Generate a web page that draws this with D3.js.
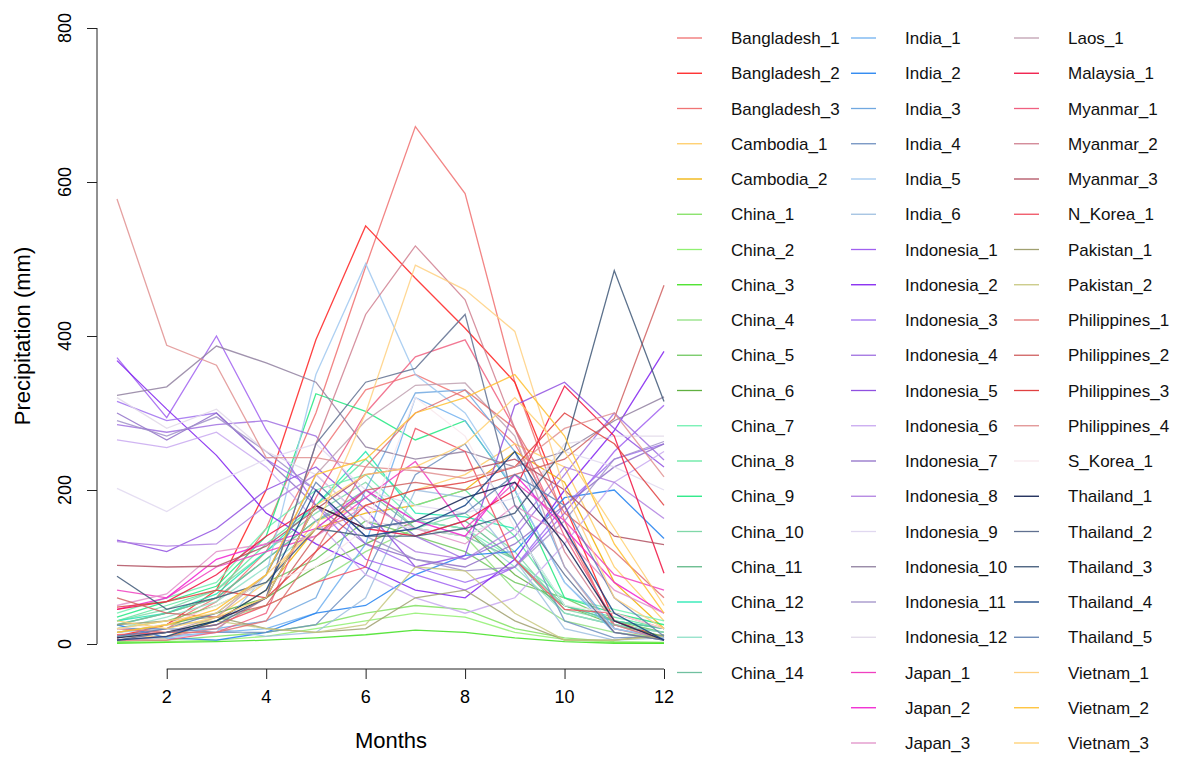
<!DOCTYPE html>
<html>
<head>
<meta charset="utf-8">
<script src="https://cdn.jsdelivr.net/npm/d3@7"></script>
<style>
  body { margin: 0; background: #fff; }
  text { font-family: "Liberation Sans", Arial, sans-serif; }
</style>
</head>
<body>
<svg id="chart" width="1181" height="758"></svg>
<script>
// months on the x axis
const months = [1, 2, 3, 4, 5, 6, 7, 8, 9, 10, 11, 12];
const yTicks = [0, 200, 400, 600, 800];
const xTicks = [2, 4, 6, 8, 10, 12];

// monthly precipitation per station
const bangladesh = [
  [8, 25, 60, 150, 300, 490, 672, 585, 340, 160, 20, 6],
  [10, 25, 70, 200, 395, 543, 475, 410, 340, 180, 30, 8],
  [8, 20, 55, 120, 240, 330, 350, 320, 260, 150, 25, 5]
];
const cambodia = [
  [10, 10, 35, 80, 160, 180, 200, 220, 260, 230, 100, 30],
  [5, 8, 30, 70, 150, 170, 180, 200, 250, 210, 80, 20]
];
const china = [
  [3, 5, 10, 15, 25, 40, 50, 45, 20, 8, 3, 2],
  [2, 3, 5, 10, 20, 30, 40, 35, 15, 6, 2, 1],
  [1, 2, 3, 5, 8, 12, 18, 15, 8, 3, 1, 1],
  [10, 15, 30, 50, 80, 120, 150, 140, 70, 30, 15, 8],
  [20, 30, 50, 80, 110, 160, 140, 120, 80, 60, 30, 15],
  [15, 25, 40, 60, 100, 130, 160, 150, 90, 50, 25, 10],
  [40, 60, 80, 150, 200, 220, 160, 150, 110, 60, 45, 30],
  [30, 50, 70, 130, 180, 240, 180, 200, 140, 50, 35, 20],
  [35, 55, 75, 140, 325, 302, 265, 290, 200, 60, 40, 25],
  [30, 45, 70, 120, 170, 210, 150, 170, 120, 45, 30, 20],
  [25, 40, 60, 110, 160, 190, 140, 160, 110, 40, 25, 15],
  [30, 40, 65, 120, 180, 250, 170, 165, 150, 50, 30, 20],
  [20, 35, 55, 100, 150, 200, 160, 150, 100, 40, 25, 15],
  [25, 40, 60, 110, 160, 200, 150, 140, 110, 50, 30, 20]
];
const india = [
  [5, 10, 15, 20, 40, 130, 320, 290, 200, 80, 15, 5],
  [25, 8, 5, 15, 40, 50, 90, 115, 120, 190, 200, 137],
  [10, 15, 20, 30, 60, 200, 326, 330, 250, 100, 20, 8],
  [20, 20, 15, 15, 25, 90, 220, 260, 160, 30, 8, 10],
  [5, 8, 15, 90, 350, 494, 350, 300, 200, 80, 20, 8],
  [15, 20, 20, 10, 15, 60, 200, 190, 110, 20, 5, 8]
];
const indonesia = [
  [372, 294, 400, 278, 180, 110, 90, 70, 100, 170, 250, 310],
  [368, 305, 245, 170, 130, 100, 70, 60, 110, 200, 277, 380],
  [315, 290, 300, 240, 200, 130, 100, 80, 100, 180, 240, 260],
  [285, 275, 285, 290, 270, 190, 140, 110, 140, 220, 300, 239],
  [135, 120, 150, 200, 230, 175, 100, 115, 310, 340, 280, 230],
  [265, 255, 275, 230, 160, 90, 60, 40, 60, 130, 210, 250],
  [300, 265, 300, 240, 180, 130, 110, 100, 130, 180, 230, 260],
  [133, 127, 130, 180, 220, 160, 120, 110, 150, 230, 210, 163],
  [202, 172, 210, 240, 260, 200, 180, 170, 190, 250, 230, 200],
  [323, 334, 387, 365, 340, 256, 240, 250, 230, 250, 290, 321],
  [290, 270, 295, 250, 200, 140, 110, 95, 100, 160, 240, 263],
  [320, 280, 305, 250, 220, 160, 150, 140, 170, 260, 270, 270]
];
const japan = [
  [70, 60, 100, 120, 140, 190, 237, 150, 210, 160, 90, 70],
  [45, 60, 110, 130, 150, 200, 160, 140, 220, 150, 80, 40],
  [50, 65, 120, 130, 140, 180, 150, 130, 180, 140, 70, 40]
];
const laos = [
  [5, 15, 35, 90, 220, 290, 336, 339, 270, 100, 15, 5]
];
const malaysia = [
  [45, 55, 90, 140, 180, 150, 140, 160, 200, 335, 270, 92]
];
const myanmar = [
  [5, 5, 15, 40, 190, 300, 373, 395, 280, 140, 30, 5],
  [5, 10, 20, 60, 260, 428, 517, 447, 280, 120, 25, 5],
  [102, 100, 101, 127, 175, 220, 230, 225, 240, 200, 140, 129]
];
const nKorea = [
  [12, 15, 25, 50, 80, 100, 280, 250, 110, 45, 40, 20]
];
const pakistan = [
  [25, 30, 35, 20, 15, 20, 60, 70, 30, 5, 5, 12],
  [15, 25, 30, 20, 15, 25, 100, 95, 40, 5, 5, 10]
];
const philippines = [
  [20, 15, 15, 30, 120, 230, 300, 330, 280, 170, 120, 60],
  [60, 40, 35, 50, 140, 200, 210, 200, 220, 240, 293, 466],
  [48, 55, 70, 60, 120, 180, 200, 210, 230, 300, 260, 180],
  [578, 388, 362, 242, 242, 230, 225, 215, 230, 280, 300, 217]
];
const sKorea = [
  [20, 25, 50, 80, 100, 150, 320, 270, 150, 50, 40, 20]
];
const thailand = [
  [8, 15, 30, 60, 180, 150, 160, 190, 210, 130, 30, 5],
  [5, 15, 25, 60, 260, 340, 358, 428, 180, 90, 15, 5],
  [88, 45, 60, 80, 150, 140, 140, 150, 170, 253, 485, 315],
  [5, 10, 30, 70, 200, 140, 150, 180, 250, 150, 40, 5],
  [10, 20, 40, 90, 210, 150, 160, 170, 220, 180, 60, 10]
];
const vietnam = [
  [20, 30, 40, 90, 150, 300, 492, 460, 406, 200, 60, 20],
  [15, 25, 45, 90, 220, 240, 300, 320, 350, 270, 130, 40],
  [30, 20, 35, 60, 180, 220, 230, 260, 320, 250, 150, 50]
];

const groups = [
  ["Bangladesh", bangladesh, ["#f07070", "#ff2020", "#f07474"]],
  ["Cambodia", cambodia, ["#ffcc66", "#f0b000"]],
  ["China", china, ["#80e060", "#90f070", "#40e020", "#90e080", "#70c860", "#60b040", "#70f0b0",
                    "#60e8a0", "#20e880", "#80d8a8", "#60b888", "#20e8b0", "#90e0c8", "#70c0a0"]],
  ["India", india, ["#70b0f0", "#2080f0", "#70a8e0", "#7090c0", "#a0c8f0", "#a0c0e0"]],
  ["Indonesia", indonesia, ["#a060f0", "#8020f0", "#a070f0", "#a070e0", "#9050e0", "#c8a8f0",
                            "#9070c8", "#b080e0", "#e0d8f0", "#9080a0", "#a090c8", "#e0d8e8"]],
  ["Japan", japan, ["#f040c0", "#f020d0", "#e090c8"]],
  ["Laos", laos, ["#c0a0b0"]],
  ["Malaysia", malaysia, ["#f01040"]],
  ["Myanmar", myanmar, ["#f06080", "#d08090", "#b05060"]],
  ["N_Korea", nKorea, ["#f05060"]],
  ["Pakistan", pakistan, ["#a0a070", "#c8c880"]],
  ["Philippines", philippines, ["#e07070", "#d06060", "#e04040", "#e09090"]],
  ["S_Korea", sKorea, ["#f8e8ec"]],
  ["Thailand", thailand, ["#102050", "#607090", "#405878", "#104080", "#6080b0"]],
  ["Vietnam", vietnam, ["#ffd080", "#ffc030", "#ffd070"]]
];

const series = groups.flatMap(([name, rows, cols]) =>
  rows.map((v, i) => ({ name: name + "_" + (i + 1), values: v, color: cols[i] })));

const svg = d3.select("#chart");

const x = d3.scaleLinear().domain([1, 12]).range([117, 664]);
const y = d3.scaleLinear().domain([0, 800]).range([644, 28]);

// lines
const line = d3.line().x((d, i) => x(months[i])).y(d => y(d));
svg.append("g").selectAll("path")
  .data(series)
  .join("path")
  .attr("d", d => line(d.values))
  .attr("fill", "none")
  .attr("stroke", d => d.color)
  .attr("stroke-width", 1.3)
  .attr("stroke-opacity", 0.85);

// y axis (R style, vertical labels)
const yAxis = svg.append("g").attr("transform", "translate(97,0)")
  .call(d3.axisLeft(y).tickValues(yTicks).tickSize(10).tickSizeOuter(0).tickFormat(""));
yAxis.select(".domain").attr("d", `M0,${y(0)}V${y(800)}`);
yAxis.selectAll("line, path").attr("stroke", "#222");
svg.append("g").selectAll("text")
  .data(yTicks)
  .join("text")
  .attr("transform", d => `translate(71,${y(d)}) rotate(-90)`)
  .attr("text-anchor", "middle")
  .style("font-size", "18px")
  .text(d => d);

// x axis
const xAxis = svg.append("g").attr("transform", "translate(0,669)")
  .call(d3.axisBottom(x).tickValues(xTicks).tickSize(10).tickSizeOuter(0).tickFormat(""));
xAxis.select(".domain").attr("d", `M${x(2)},0H${x(12)}`);
xAxis.selectAll("line, path").attr("stroke", "#222");
svg.append("g").selectAll("text")
  .data(xTicks)
  .join("text")
  .attr("x", d => x(d))
  .attr("y", 703)
  .attr("text-anchor", "middle")
  .style("font-size", "18px")
  .text(d => d);

// axis titles
svg.append("text")
  .attr("x", 391).attr("y", 748)
  .attr("text-anchor", "middle")
  .style("font-size", "22px")
  .text("Months");
svg.append("text")
  .attr("transform", "translate(30,336) rotate(-90)")
  .attr("text-anchor", "middle")
  .style("font-size", "22px")
  .text("Precipitation (mm)");

// legend: 3 columns (19, 21, 21 rows)
const colStarts = [0, 19, 40];
const colX = [677, 851, 1014];
const rowY = i => 38 + i * 35.25;
const leg = svg.append("g").selectAll("g")
  .data(series)
  .join("g")
  .attr("transform", (d, i) => {
    const c = i >= colStarts[2] ? 2 : i >= colStarts[1] ? 1 : 0;
    return `translate(${colX[c]},${rowY(i - colStarts[c])})`;
  });
leg.append("line")
  .attr("x1", 0).attr("x2", 25)
  .attr("stroke", d => d.color)
  .attr("stroke-width", 1.3);
leg.append("text")
  .attr("x", 54).attr("y", 6)
  .style("font-size", "17px")
  .attr("fill", "#111")
  .text(d => d.name);
</script>
</body>
</html>
